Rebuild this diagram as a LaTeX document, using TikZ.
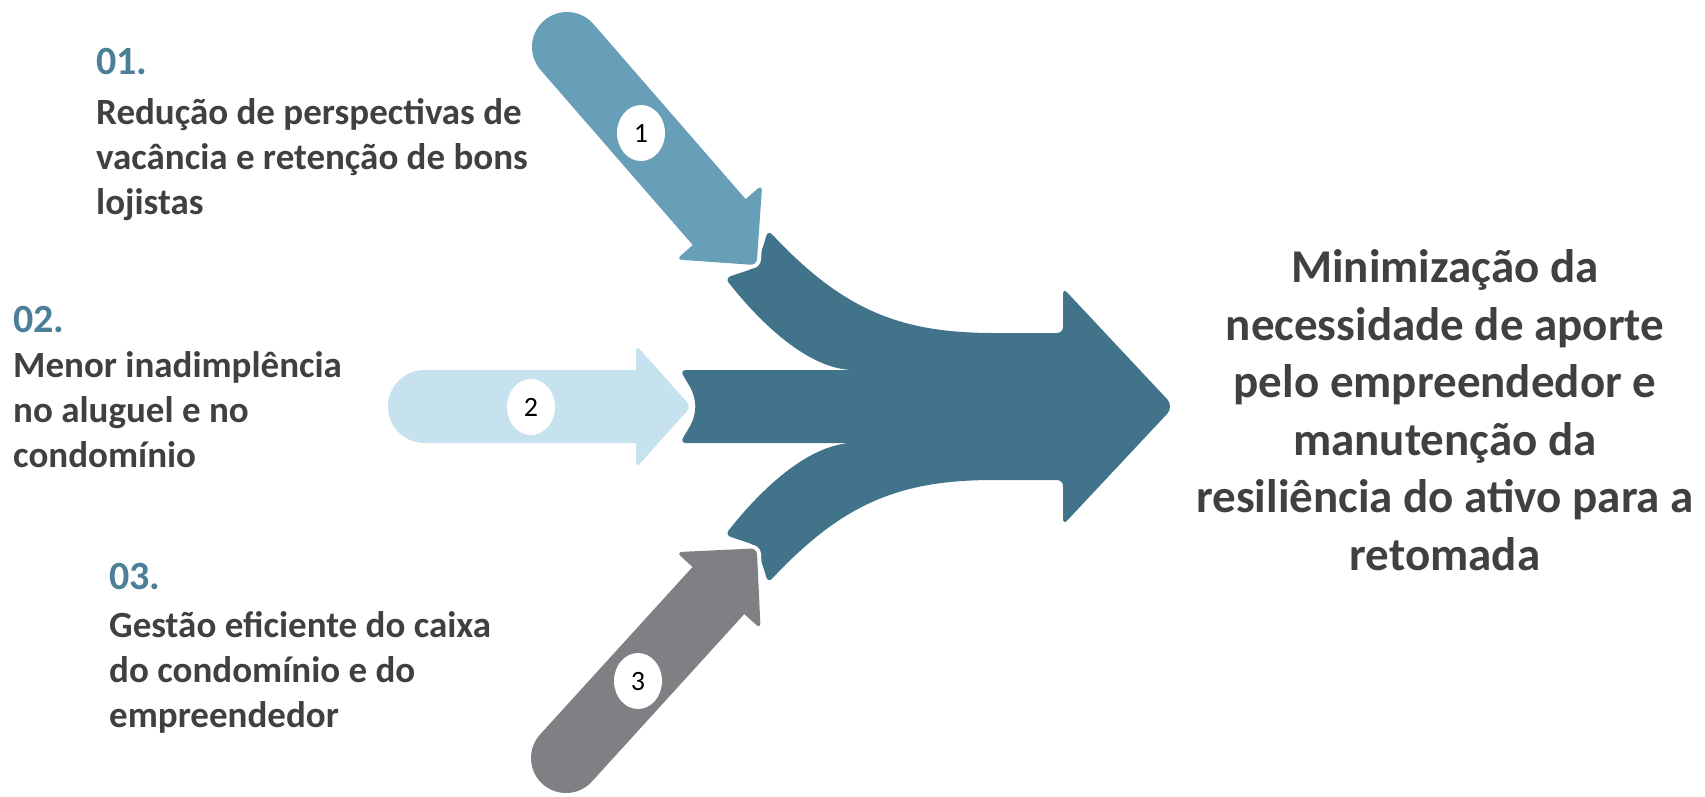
\documentclass[tikz,border=0pt]{standalone}
\usepackage{fontspec}
\setmainfont{Carlito}
\definecolor{darkc}{HTML}{41748A}
\definecolor{aonec}{HTML}{669FB7}
\definecolor{atwoc}{HTML}{C5E2EE}
\definecolor{athreec}{HTML}{7F8083}
\definecolor{numc}{HTML}{4A7F97}
\definecolor{txtc}{HTML}{404040}
\usetikzlibrary{shapes.geometric}
\tikzset{
  arrowshape/.style={preaction={draw=white,line width=8pt,line join=round}},
  numbubble/.style={ellipse, fill=white, minimum width=48pt, minimum height=56pt, inner sep=0pt, font=\fontsize{28}{32}\selectfont, text=black},
  headtext/.style={anchor=base west, inner sep=0pt, text=numc, font=\fontsize{40}{48}\selectfont\bfseries},
  bodytext/.style={anchor=base west, inner sep=0pt, text=txtc, font=\fontsize{37}{45}\selectfont\bfseries},
  righttext/.style={align=center, inner sep=0pt, text=txtc, font=\fontsize{47}{57.5}\selectfont\bfseries}
}
\begin{document}
\begin{tikzpicture}[x=1pt,y=-1pt]
\useasboundingbox (0,0) rectangle (1705,796);
% merged dark arrow
\fill[darkc, rounded corners=6pt] (768,230) .. controls (843,310) and (900,333) .. (1000,333)
  -- (1063,333) -- (1063,288) [rounded corners=10pt] -- (1174,406.5) [rounded corners=6pt] -- (1063,525) -- (1063,480) -- (1000,480)
  .. controls (900,480) and (843,503) .. (768,583)
  -- (763,566) -- (755,545) -- (725,535)
  .. controls (762,488) and (810,443) .. (860,443)
  -- (680,443) -- (693,421) -- (696,406.5) -- (693,392) -- (680,370) -- (860,370)
  .. controls (810,370) and (762,325) .. (725,278)
  -- (755,268) -- (763,247) -- cycle;
% arrow 1
\begin{scope}[shift={(567,47)}, rotate=-49]
\fill[aonec, arrowshape] (0,35) arc[start angle=270, end angle=90, radius=35pt] -- (232,-35)
  [rounded corners=6pt] -- (232,-57) -- (289,0) -- (232,57) [sharp corners] -- (232,35) -- cycle;
\end{scope}
% arrow 2
\fill[atwoc, arrowshape] (424.5,443) arc[start angle=270, end angle=90, radius=36.5pt] -- (636,370)
  [rounded corners=6pt] -- (636,345) -- (691,406.5) -- (636,468) [sharp corners] -- (636,443) -- cycle;
% arrow 3
\begin{scope}[shift={(566,758)}, rotate=47.7]
\fill[athreec, arrowshape] (0,35) arc[start angle=270, end angle=90, radius=35pt] -- (226.5,-35)
  [rounded corners=6pt] -- (226.5,-57) -- (283.5,0) -- (226.5,57) [sharp corners] -- (226.5,35) -- cycle;
\end{scope}
\node[numbubble] (n1) at (641,133) {1};
\node[numbubble] (n2) at (531,407) {2};
\node[numbubble] (n3) at (638,681) {3};
% texts
\node[headtext] (h1) at (96,74) {01.};
\node[bodytext] (b1) at (96,124) {\vtop{\hbox{Redução de perspectivas de}\hbox{vacância e retenção de bons}\hbox{lojistas}}};
\node[headtext] (h2) at (13,332) {02.};
\node[bodytext] (b2) at (13,377) {\vtop{\hbox{Menor inadimplência}\hbox{no aluguel e no}\hbox{condomínio}}};
\node[headtext] (h3) at (109,589) {03.};
\node[bodytext] (b3) at (109,637) {\vtop{\hbox{Gestão eficiente do caixa}\hbox{do condomínio e do}\hbox{empreendedor}}};
\node[righttext] (res) at (1445,410) {Minimização da\\necessidade de aporte\\pelo empreendedor e\\manutenção da\\resiliência do ativo para a\\retomada};
\end{tikzpicture}
\end{document}
